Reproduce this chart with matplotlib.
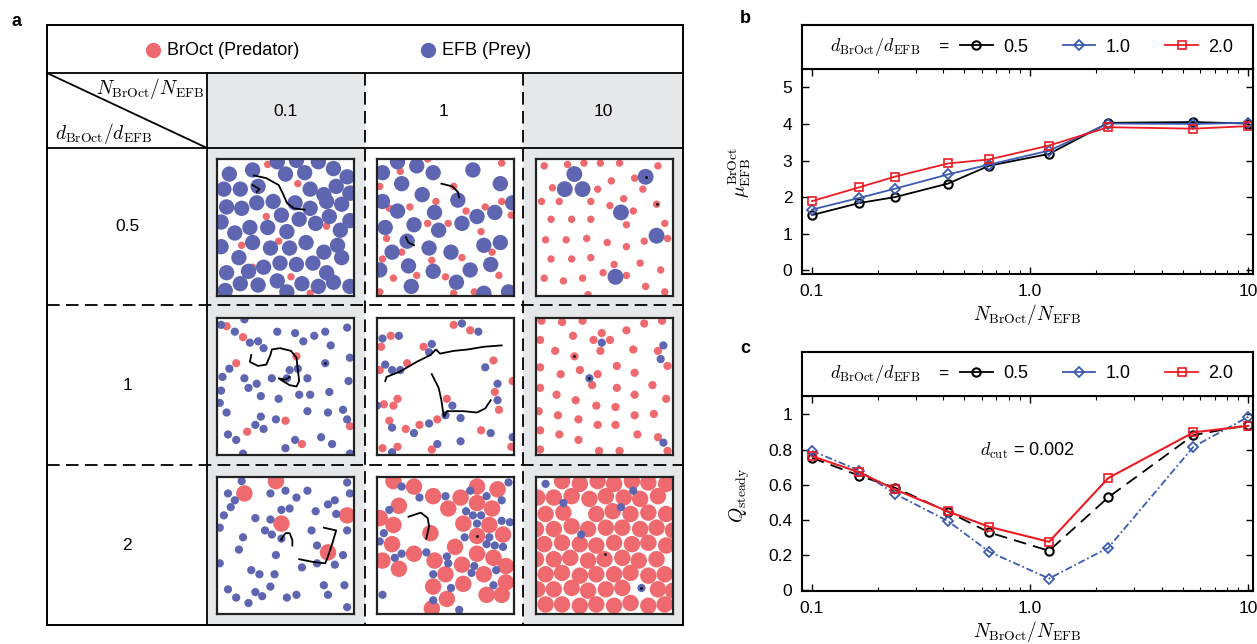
import matplotlib.pyplot as plt
from matplotlib.patches import Circle, Rectangle

plt.rcParams['font.family'] = ['Liberation Sans', 'DejaVu Sans']
plt.rcParams['mathtext.fontset'] = 'cm'

# ---------------- data: panels b and c ----------------
x_ratio = [0.1, 0.165, 0.24, 0.42, 0.65, 1.22, 2.28, 5.6, 10]
mu_05 = [1.51, 1.84, 2.00, 2.37, 2.86, 3.18, 4.03, 4.05, 4.01]
mu_10 = [1.66, 1.98, 2.23, 2.62, 2.89, 3.27, 4.01, 4.00, 4.03]
mu_20 = [1.89, 2.27, 2.56, 2.92, 3.03, 3.41, 3.91, 3.87, 3.94]
q_05 = [0.753, 0.651, 0.583, 0.446, 0.328, 0.224, 0.528, 0.882, 0.94]
q_10 = [0.793, 0.680, 0.548, 0.393, 0.218, 0.066, 0.241, 0.816, 0.987]
q_20 = [0.763, 0.670, 0.573, 0.448, 0.360, 0.275, 0.638, 0.898, 0.935]
size_labels = ['0.5', '1.0', '2.0']
col_labels = ['0.1', '1', '10']
row_labels = ['0.5', '1', '2']

# ---------------- data: panel a snapshots (x %, y % from top) ----------------
a_blue = [(9, 11), (26, 8), (50, 11), (64, 10), (85, 7), (95, 13), (44, 2), (58, 1), (74, 2),
          (5, 22), (17, 22), (30, 20), (68, 22), (78, 26), (87, 20), (97, 25),
          (7, 35), (18, 36), (29, 32), (41, 31), (57, 32), (68, 36), (80, 31), (91, 33),
          (3, 46), (24, 50), (37, 50), (51, 53), (60, 44), (72, 47), (82, 42), (90, 52), (13, 54),
          (26, 61), (39, 65), (53, 65), (65, 61), (78, 68), (88, 63), (3, 64),
          (16, 72), (46, 76), (58, 77), (70, 76), (91, 72), (34, 79), (7, 83),
          (17, 91), (30, 92), (44, 89), (62, 91), (74, 93), (85, 90), (97, 93), (51, 97), (6, 96),
          (97, 45), (47, 41), (23, 82), (80, 83)]
a_red = [(37, 4), (59, 18), (36, 42), (80, 49), (18, 63), (45, 60), (26, 79), (54, 86), (68, 98), (98, 22)]
a_traj = [[(27, 12), (36, 14), (45, 19), (48, 25), (51, 32), (56, 36), (64, 37)],
          [(26, 19), (31, 22), (29, 24)]]
a_dots = []

b_blue = [(4, 10), (15, 2), (29, 5), (41, 10), (70, 8), (90, 18), (18, 18), (33, 26), (4, 31), (15, 38),
          (42, 39), (59, 30), (73, 42), (86, 39), (99, 32), (6, 50), (27, 48), (45, 52), (62, 47), (22, 60),
          (11, 68), (38, 65), (54, 68), (78, 63), (90, 61), (23, 78), (2, 81), (41, 82), (68, 81), (83, 77),
          (25, 93), (58, 90), (78, 98), (96, 97)]
b_red = [(17, 9), (2, 20), (43, 31), (9, 36), (24, 35), (37, 47), (52, 47), (65, 38), (79, 35), (91, 31),
         (98, 41), (7, 58), (76, 53), (84, 68), (18, 68), (40, 74), (62, 72), (4, 73), (29, 85), (12, 87),
         (50, 86), (89, 85), (56, 20), (91, 3), (2, 97), (56, 98), (71, 97), (37, 0)]
b_traj = [[(47, 18), (55, 20), (59, 24), (60, 28)],
          [(21, 57), (23, 61), (27, 63)]]
b_dots = []

c_blue = [(28, 11), (21, 22), (34, 22), (80, 13), (62, 39), (88, 56), (58, 86)]
c_red = [(6, 5), (23, 4), (35, 3), (47, 3), (61, 3), (12, 21), (45, 22), (4, 31), (17, 31), (40, 31),
         (72, 14), (78, 22), (88, 33), (55, 16), (54, 34), (64, 29), (71, 38), (66, 48), (94, 47),
         (11, 44), (26, 44), (40, 44), (7, 59), (22, 59), (37, 58), (52, 61), (66, 64), (79, 60), (96, 58),
         (11, 73), (26, 73), (40, 72), (57, 77), (76, 76), (91, 81), (6, 87), (20, 89), (34, 87), (49, 83),
         (66, 85), (80, 93), (94, 97), (38, 99), (89, 5)]
c_traj = []
c_dots = [(80, 13), (88, 33)]

d_blue = [(3, 5), (13, 10), (20, 1), (24, 18), (30, 17), (34, 22), (44, 10), (57, 11), (63, 17), (71, 13),
          (79, 10), (83, 20), (95, 7), (4, 43), (9, 37), (20, 44), (23, 51), (29, 48), (40, 44), (53, 38),
          (51, 44), (59, 37), (66, 44), (79, 33), (97, 29), (96, 46), (3, 53), (32, 57), (45, 59), (60, 56),
          (68, 56), (82, 54), (7, 69), (32, 72), (28, 78), (34, 81), (43, 74), (66, 68), (81, 69), (92, 67),
          (95, 74), (8, 85), (14, 89), (19, 99), (50, 95), (57, 89), (76, 87), (84, 92), (97, 99), (2, 62)]
d_red = [(7, 6), (19, 14), (14, 33), (58, 28), (50, 75), (22, 83), (62, 92), (97, 79)]
d_traj = [[(25, 27), (24, 32), (30, 35), (36, 34), (39, 27), (40, 23), (46, 22), (54, 24), (58, 29),
           (59, 38), (60, 46), (58, 50), (53, 49), (48, 46), (45, 44), (50, 45), (53, 43)]]
d_dots = [(79, 33)]

e_blue = [(62, 4), (74, 10), (4, 15), (16, 13), (40, 19), (38, 25), (6, 34), (11, 38), (17, 38), (79, 36),
          (88, 48), (88, 60), (55, 64), (50, 71), (61, 73), (0, 64), (11, 80), (27, 84), (38, 77), (44, 92),
          (83, 84), (61, 90), (11, 98), (99, 87)]
e_red = [(56, 5), (68, 9), (10, 13), (3, 21), (34, 21), (85, 31), (22, 33), (2, 38), (15, 59), (5, 63),
         (12, 64), (51, 59), (86, 54), (89, 67), (99, 46), (9, 75), (21, 81), (31, 78), (44, 74), (76, 82),
         (15, 94), (4, 95), (40, 96), (98, 94)]
e_traj = [[(6, 46), (7, 43), (17, 39), (29, 32), (39, 27), (43, 23), (46, 26), (56, 24), (66, 23), (78, 21), (91, 20)],
          [(40, 41), (45, 51), (47, 60), (48, 67), (49, 72), (51, 68), (63, 68), (73, 69), (79, 66), (83, 60)]]
e_dots = []

f_blue = [(48, 18), (39, 44), (93, 20), (91, 30), (93, 91)]
f_red = [(4, 2), (19, 3), (48, 11), (42, 16), (47, 24), (54, 16), (66, 9), (79, 4), (92, 2), (3, 16),
         (27, 13), (14, 24), (28, 28), (3, 36), (18, 41), (32, 38), (45, 41), (41, 49), (59, 35), (71, 23),
         (89, 24), (96, 35), (72, 40), (85, 49), (3, 51), (15, 56), (29, 60), (59, 51), (72, 56), (95, 59),
         (44, 64), (58, 65), (86, 70), (2, 68), (16, 71), (31, 74), (72, 71), (3, 82), (17, 85), (45, 78),
         (58, 78), (74, 85), (89, 87), (96, 97), (31, 89), (46, 97), (61, 97), (3, 96), (34, 2)]
f_traj = []
f_dots = [(28, 28), (39, 44)]

g_red = [(20, 12), (43, 3), (47, 34), (95, 28), (81, 55)]
g_blue = [(18, 3), (8, 12), (13, 17), (10, 22), (5, 28), (39, 12), (50, 10), (58, 15), (66, 10), (95, 4),
          (97, 12), (86, 17), (81, 20), (53, 23), (47, 24), (72, 25), (87, 27), (28, 30), (39, 31), (35, 39),
          (40, 42), (19, 44), (47, 45), (69, 39), (95, 39), (16, 53), (43, 57), (73, 50), (73, 63), (92, 57),
          (86, 64), (62, 66), (2, 63), (25, 68), (31, 71), (42, 71), (39, 80), (8, 82), (14, 88), (28, 84),
          (33, 87), (23, 92), (51, 88), (58, 86), (78, 79), (81, 86), (93, 79), (95, 95), (2, 37)]
g_traj = [[(47, 45), (50, 41), (53, 41), (55, 46), (55, 50)],
          [(78, 37), (87, 39), (84, 49), (81, 58), (79, 63), (70, 62), (60, 60)]]
g_dots = [(47, 45)]

h_red = [(12, 3), (27, 7), (41, 14), (52, 23), (61, 15), (73, 7), (88, 9), (16, 21), (2, 30), (12, 35),
         (39, 41), (63, 34), (73, 19), (84, 23), (82, 35), (92, 42), (73, 43), (57, 51), (11, 49), (27, 56),
         (4, 61), (16, 67), (42, 61), (50, 71), (62, 64), (73, 56), (85, 59), (94, 65), (78, 71), (41, 80),
         (63, 78), (94, 77), (51, 89), (80, 86), (91, 86), (40, 96)]
h_blue = [(18, 7), (31, 15), (50, 14), (68, 10), (80, 14), (91, 17), (96, 4), (65, 25), (70, 28), (76, 28),
          (73, 34), (9, 24), (5, 41), (2, 47), (13, 59), (18, 56), (36, 55), (51, 58), (52, 63), (64, 44),
          (80, 49), (86, 50), (92, 51), (82, 44), (91, 32), (97, 33), (71, 65), (69, 70), (87, 68), (41, 71),
          (54, 81), (85, 79), (4, 86), (41, 90), (60, 97)]
h_traj = [[(23, 29), (32, 26), (37, 30), (38, 36), (36, 45)]]
h_dots = [(73, 43)]

i_red = [(19, 3), (32, 5), (45, 3), (57, 5), (70, 3), (82, 4), (95, 5),
         (1, 15), (13, 15), (26, 14), (39, 16), (51, 14), (64, 15), (76, 16), (89, 14),
         (7, 27), (20, 26), (44, 27), (56, 25), (69, 27), (82, 26), (95, 27),
         (0, 38), (13, 38), (26, 36), (38, 38), (51, 37), (63, 37), (76, 38), (88, 37), (100, 39),
         (6, 49), (19, 48), (32, 49), (44, 50), (57, 48), (70, 49), (82, 48), (95, 50),
         (0, 60), (13, 60), (25, 59), (38, 61), (50, 60), (63, 59), (75, 61), (88, 60),
         (7, 71), (19, 70), (32, 72), (44, 71), (57, 71), (69, 70), (82, 72), (94, 71),
         (1, 82), (13, 82), (26, 81), (38, 83), (51, 82), (63, 81), (89, 82), (100, 83),
         (7, 93), (19, 93), (32, 94), (44, 93), (57, 94), (69, 92), (82, 94), (94, 93)]
i_blue = [(7, 5), (20, 19), (33, 42), (62, 22), (71, 10), (77, 81)]
i_traj = []
i_dots = [(50, 56), (77, 81)]

RED = '#ef6a6e'
BLUE = '#5f66b1'
GRAY = '#e6e7e8'
W, H = 1257, 644

fig = plt.figure(figsize=(W / 100, H / 100), dpi=100)


def px_axes(x0, y0, x1, y1):
    return fig.add_axes([x0 / W, 1 - y1 / H, (x1 - x0) / W, (y1 - y0) / H])


# ---------------- panel a: the table ----------------
tab = fig.add_axes([0, 0, 1, 1])
tab.set_xlim(0, W)
tab.set_ylim(H, 0)
tab.axis('off')

col_x = [207, 365, 523, 683]
row_y = [148, 305, 465, 625]
for i in (0, 2):
    tab.add_patch(Rectangle((col_x[i], 73), col_x[i + 1] - col_x[i], 625 - 73, color=GRAY, lw=0))
tab.add_patch(Rectangle((47, 25), 683 - 47, 625 - 25, fill=False, lw=1.4, ec='k'))
tab.plot([47, 683], [73, 73], color='k', lw=1.3)
tab.plot([47, 683], [148, 148], color='k', lw=1.3)
tab.plot([207, 207], [73, 625], color='k', lw=1.3)
tab.plot([47, 207], [73, 148], color='k', lw=1.3)
for x in (365, 523):
    tab.plot([x, x], [73, 625], color='k', lw=1.3, ls=(0, (7, 3.5)))
for y in (305, 465):
    tab.plot([47, 683], [y, y], color='k', lw=1.3, ls=(0, (7, 3.5)))

tab.plot(153, 50, 'o', color=RED, ms=11, mec='none')
tab.text(167, 50, 'BrOct (Predator)', fontsize=13, va='center')
tab.plot(428, 50, 'o', color=BLUE, ms=11, mec='none')
tab.text(442, 50, 'EFB (Prey)', fontsize=13, va='center')
tab.text(204, 88, r'$N_{\rm BrOct}/N_{\rm EFB}$', fontsize=14, ha='right', va='center')
tab.text(55, 133, r'$d_{\rm BrOct}/d_{\rm EFB}$', fontsize=14, ha='left', va='center')
for i, lab in enumerate(col_labels):
    tab.text((col_x[i] + col_x[i + 1]) / 2, 111, lab, fontsize=12.5, ha='center', va='center')
for i, lab in enumerate(row_labels):
    tab.text(127, (row_y[i] + row_y[i + 1]) / 2, lab, fontsize=12.5, ha='center', va='center')

tab.text(16, 21, 'a', fontsize=13, fontweight='bold', ha='center', va='center')
tab.text(745, 18, 'b', fontsize=13, fontweight='bold', ha='center', va='center')
tab.text(745, 348, 'c', fontsize=13, fontweight='bold', ha='center', va='center')
tab.text(740, 172, r'$\mu_{\rm EFB}^{\rm BrOct}$', fontsize=14, rotation=90, ha='center', va='center')
tab.text(740, 495, r'$Q_{\rm steady}$', fontsize=14, rotation=90, ha='center', va='center')

# snapshots: (red, blue, red radius, blue radius, trajectories, dots)
snaps = [
    [(a_red, a_blue, 2.7, 5.6, a_traj, a_dots), (b_red, b_blue, 2.7, 5.6, b_traj, b_dots), (c_red, c_blue, 2.7, 5.8, c_traj, c_dots)],
    [(d_red, d_blue, 3.0, 3.0, d_traj, d_dots), (e_red, e_blue, 3.0, 3.0, e_traj, e_dots), (f_red, f_blue, 3.0, 3.0, f_traj, f_dots)],
    [(g_red, g_blue, 6.0, 3.0, g_traj, g_dots), (h_red, h_blue, 6.0, 3.0, h_traj, h_dots), (i_red, i_blue, 6.0, 3.0, i_traj, i_dots)],
]
box_x = [217, 377, 536]
box_y = [159, 318, 477]
for r in range(3):
    for c in range(3):
        reds, blues, rr, rb, trajs, dots = snaps[r][c]
        sa = px_axes(box_x[c], box_y[r], box_x[c] + 137, box_y[r] + 137)
        sa.set_xlim(0, 100)
        sa.set_ylim(100, 0)
        sa.set_xticks([])
        sa.set_yticks([])
        for s in sa.spines.values():
            s.set_linewidth(1.6)
            s.set_color('#222222')
        for (x, y) in reds:
            sa.add_patch(Circle((x, y), rr, color=RED, lw=0))
        for (x, y) in blues:
            sa.add_patch(Circle((x, y), rb, color=BLUE, lw=0))
        for t in trajs:
            sa.plot([p[0] for p in t], [p[1] for p in t], color='k', lw=1.3)
        for (x, y) in dots:
            sa.plot(x, y, 'o', color='k', ms=2, mec='none')

# ---------------- panels b and c ----------------
def style_axes(ax):
    ax.set_xscale('log')
    ax.set_xlim(0.09, 10.5)
    ax.set_xticks([0.1, 1, 10])
    ax.set_xticklabels(['0.1', '1.0', '10'])
    ax.tick_params(which='both', direction='in', top=True, right=True, labelsize=12.5)
    ax.tick_params(which='major', length=5, width=1, pad=7)
    ax.tick_params(which='minor', length=3, width=0.8)
    for s in ax.spines.values():
        s.set_linewidth(1.5)


def legend_box(x0, y0, x1, y1, handles):
    lb = px_axes(x0, y0, x1, y1)
    lb.set_xticks([])
    lb.set_yticks([])
    for s in lb.spines.values():
        s.set_linewidth(1.5)
    lb.text((830 - x0) / (x1 - x0), 0.5, r'$d_{\rm BrOct}/d_{\rm EFB}$', fontsize=13,
            transform=lb.transAxes, va='center')
    lb.text((943 - x0) / (x1 - x0), 0.5, '=', fontsize=12.5, transform=lb.transAxes, va='center', ha='center')
    lb.legend(handles, size_labels, loc='center left', bbox_to_anchor=((960 - x0) / (x1 - x0), 0.5),
              ncol=3, frameon=False, fontsize=13, handlelength=1.8, handletextpad=0.6,
              columnspacing=1.9, borderaxespad=0, borderpad=0)


axb = px_axes(802, 69, 1253, 274)
hb = [
    axb.plot(x_ratio, mu_05, color='k', marker='o', ms=6, mfc='none', mew=1.5, lw=1.3)[0],
    axb.plot(x_ratio, mu_10, color='#3c5bb0', marker='D', ms=5, mfc='none', mew=1.3, lw=1.3)[0],
    axb.plot(x_ratio, mu_20, color='#ec1c24', marker='s', ms=5.5, mfc='none', mew=1.2, lw=1.3)[0],
]
style_axes(axb)
axb.set_ylim(-0.1, 5.5)
axb.set_yticks([0, 1, 2, 3, 4, 5])
axb.set_xlabel(r'$N_{\rm BrOct}/N_{\rm EFB}$', fontsize=14, labelpad=2)
legend_box(802, 25, 1253, 69, hb)

axc = px_axes(802, 396, 1253, 591)
axc.plot(x_ratio, q_05, color='k', marker='o', ms=6, mfc='none', mew=1.5, lw=1.3, ls=(0, (7, 4)))
axc.plot(x_ratio, q_10, color='#3c5bb0', marker='D', ms=5, mfc='none', mew=1.3, lw=1.3, ls=(0, (4, 1.5, 1, 1.5)))
axc.plot(x_ratio, q_20, color='#ec1c24', marker='s', ms=5.5, mfc='none', mew=1.2, lw=1.5)
style_axes(axc)
axc.set_ylim(-0.005, 1.105)
axc.set_yticks([0, 0.2, 0.4, 0.6, 0.8, 1])
axc.set_yticklabels(['0', '0.2', '0.4', '0.6', '0.8', '1'])
axc.set_xlabel(r'$N_{\rm BrOct}/N_{\rm EFB}$', fontsize=14, labelpad=2)
axc.text(0.5, 0.72, r'$d_{\rm cut}$ = 0.002', fontsize=13, transform=axc.transAxes, ha='center', va='center')
# the reference shows solid handles in this legend as well
legend_box(802, 352, 1253, 396, hb)

fig.savefig('out.png', dpi=100)
